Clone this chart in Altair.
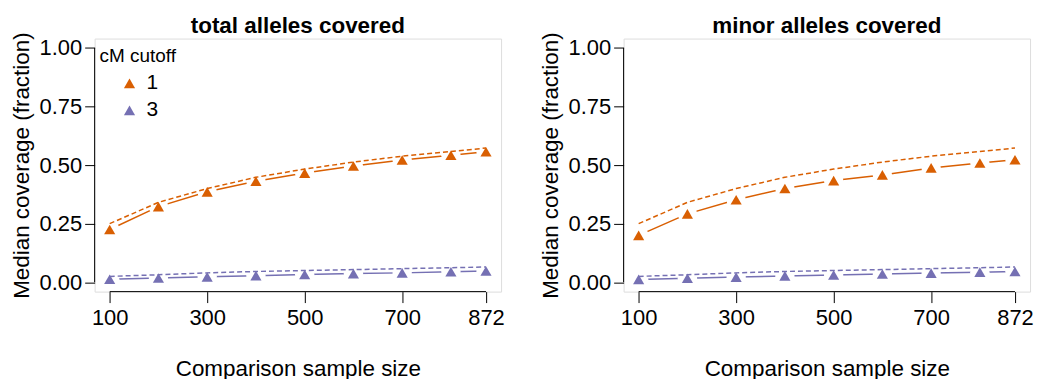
import altair as alt
import pandas as pd

# ---- data ----
sizes = [100, 200, 300, 400, 500, 600, 700, 800, 872]
cutoffs = ["1", "3"]
total_obs_1 = [0.225, 0.323, 0.386, 0.431, 0.466, 0.496, 0.522, 0.542, 0.557]
total_obs_3 = [0.013, 0.018, 0.023, 0.028, 0.033, 0.037, 0.040, 0.045, 0.048]
minor_obs_1 = [0.200, 0.292, 0.352, 0.400, 0.434, 0.458, 0.488, 0.509, 0.523]
minor_obs_3 = [0.012, 0.017, 0.022, 0.027, 0.031, 0.035, 0.039, 0.043, 0.046]
expected_1 = [0.250, 0.341, 0.400, 0.448, 0.483, 0.513, 0.538, 0.558, 0.573]
expected_3 = [0.025, 0.032, 0.040, 0.046, 0.050, 0.054, 0.058, 0.062, 0.065]
x_ticks = [100, 300, 500, 700, 872]
y_ticks = [0.0, 0.25, 0.5, 0.75, 1.0]
panel_titles = {"total": "total alleles covered", "minor": "minor alleles covered"}

colors = ["#D95F02", "#7570B3"]
FONT = "Liberation Sans"
W, H = 408, 254

rows = []
obs = {"total": {"1": total_obs_1, "3": total_obs_3},
       "minor": {"1": minor_obs_1, "3": minor_obs_3}}
exp = {"1": expected_1, "3": expected_3}
for p in ["total", "minor"]:
    for c in cutoffs:
        for i, s in enumerate(sizes):
            rows.append({"panel": p, "size": s, "cutoff": c,
                         "observed": obs[p][c][i], "expected": exp[c][i]})
df = pd.DataFrame(rows)

pad_x = (max(sizes) - min(sizes)) * 0.04
xscale = alt.Scale(domain=[min(sizes) - pad_x, max(sizes) + pad_x], nice=False, zero=False)
yscale = alt.Scale(domain=[-0.04, 1.04], nice=False, zero=False)
cscale = alt.Scale(domain=cutoffs, range=colors)

xaxis = alt.Axis(values=x_ticks, title="Comparison sample size", domain=False, grid=False,
                 tickSize=11, tickColor="black", labelFontSize=22, labelFont=FONT,
                 labelColor="black", labelPadding=5, titleFontSize=22.5, titleFont=FONT,
                 titleFontWeight="normal", titleColor="black", titlePadding=29,
                 labelFlush=False, labelOverlap=False)
yaxis = alt.Axis(values=y_ticks, format=".2f", title="Median coverage (fraction)",
                 domain=False, grid=False, tickSize=10, tickColor="black",
                 labelFontSize=22, labelFont=FONT, labelColor="black", labelPadding=3,
                 titleFontSize=22.5, titleFont=FONT, titleFontWeight="normal",
                 titleColor="black", titlePadding=6, labelFlush=False)

axis_x_df = pd.DataFrame({"x": [x_ticks[0]], "x2": [x_ticks[-1]]})
axis_y_df = pd.DataFrame({"y": [y_ticks[0]], "y2": [y_ticks[-1]]})


def panel(p, with_legend):
    base = alt.Chart(df[df["panel"] == p])
    X = alt.X("size:Q", scale=xscale, axis=xaxis)
    Y = alt.Y("observed:Q", scale=yscale, axis=yaxis)
    col = alt.Color("cutoff:N", scale=cscale, legend=None)
    solid = base.mark_line(strokeWidth=1.5).encode(x=X, y=Y, color=col)
    halo = base.mark_circle(size=380, color="white", opacity=1).encode(
        x=alt.X("size:Q", scale=xscale), y=alt.Y("observed:Q", scale=yscale))
    dashed = base.mark_line(strokeWidth=1.5, strokeDash=[5, 3]).encode(
        x=alt.X("size:Q", scale=xscale), y=alt.Y("expected:Q", scale=yscale), color=col)
    tri = base.mark_point(shape="triangle-up", filled=True, size=125, opacity=1).encode(
        x=alt.X("size:Q", scale=xscale), y=alt.Y("observed:Q", scale=yscale), color=col)
    xline = alt.Chart(axis_x_df).mark_rule(color="black", strokeWidth=1).encode(
        x=alt.X("x:Q", scale=xscale), x2="x2", y=alt.value(H))
    yline = alt.Chart(axis_y_df).mark_rule(color="black", strokeWidth=1).encode(
        y=alt.Y("y:Q", scale=yscale), y2="y2", x=alt.value(0))
    layers = [solid, halo, dashed, tri, xline, yline]
    if with_legend:
        leg_title = alt.Chart(axis_x_df).mark_text(
            text="cM cutoff", align="left", baseline="alphabetic", fontSize=19,
            font=FONT, color="black").encode(x=alt.value(5), y=alt.value(23))
        layers.append(leg_title)
        for k, c in enumerate(cutoffs):
            ldf = pd.DataFrame({"cutoff": [c]})
            layers.append(alt.Chart(ldf).mark_point(
                shape="triangle-up", filled=True, size=125, opacity=1).encode(
                x=alt.value(35), y=alt.value(45 + 27 * k), color=col))
            layers.append(alt.Chart(ldf).mark_text(
                align="left", baseline="middle", fontSize=21, font=FONT,
                color="black").encode(
                x=alt.value(52), y=alt.value(45 + 27 * k), text="cutoff:N"))
    return alt.layer(*layers).properties(
        width=W, height=H,
        title=alt.TitleParams(panel_titles[p], fontSize=22.5, fontWeight="bold",
                              font=FONT, color="black", anchor="middle", frame="group",
                              offset=-6))


chart = alt.hconcat(panel("total", True), panel("minor", False), spacing=33).properties(
    padding={"left": 9, "top": 14, "right": 5, "bottom": 5}
).configure_view(stroke=None).configure(background="white")

chart.save("out.html", embed_options={"renderer": "svg", "actions": False})
